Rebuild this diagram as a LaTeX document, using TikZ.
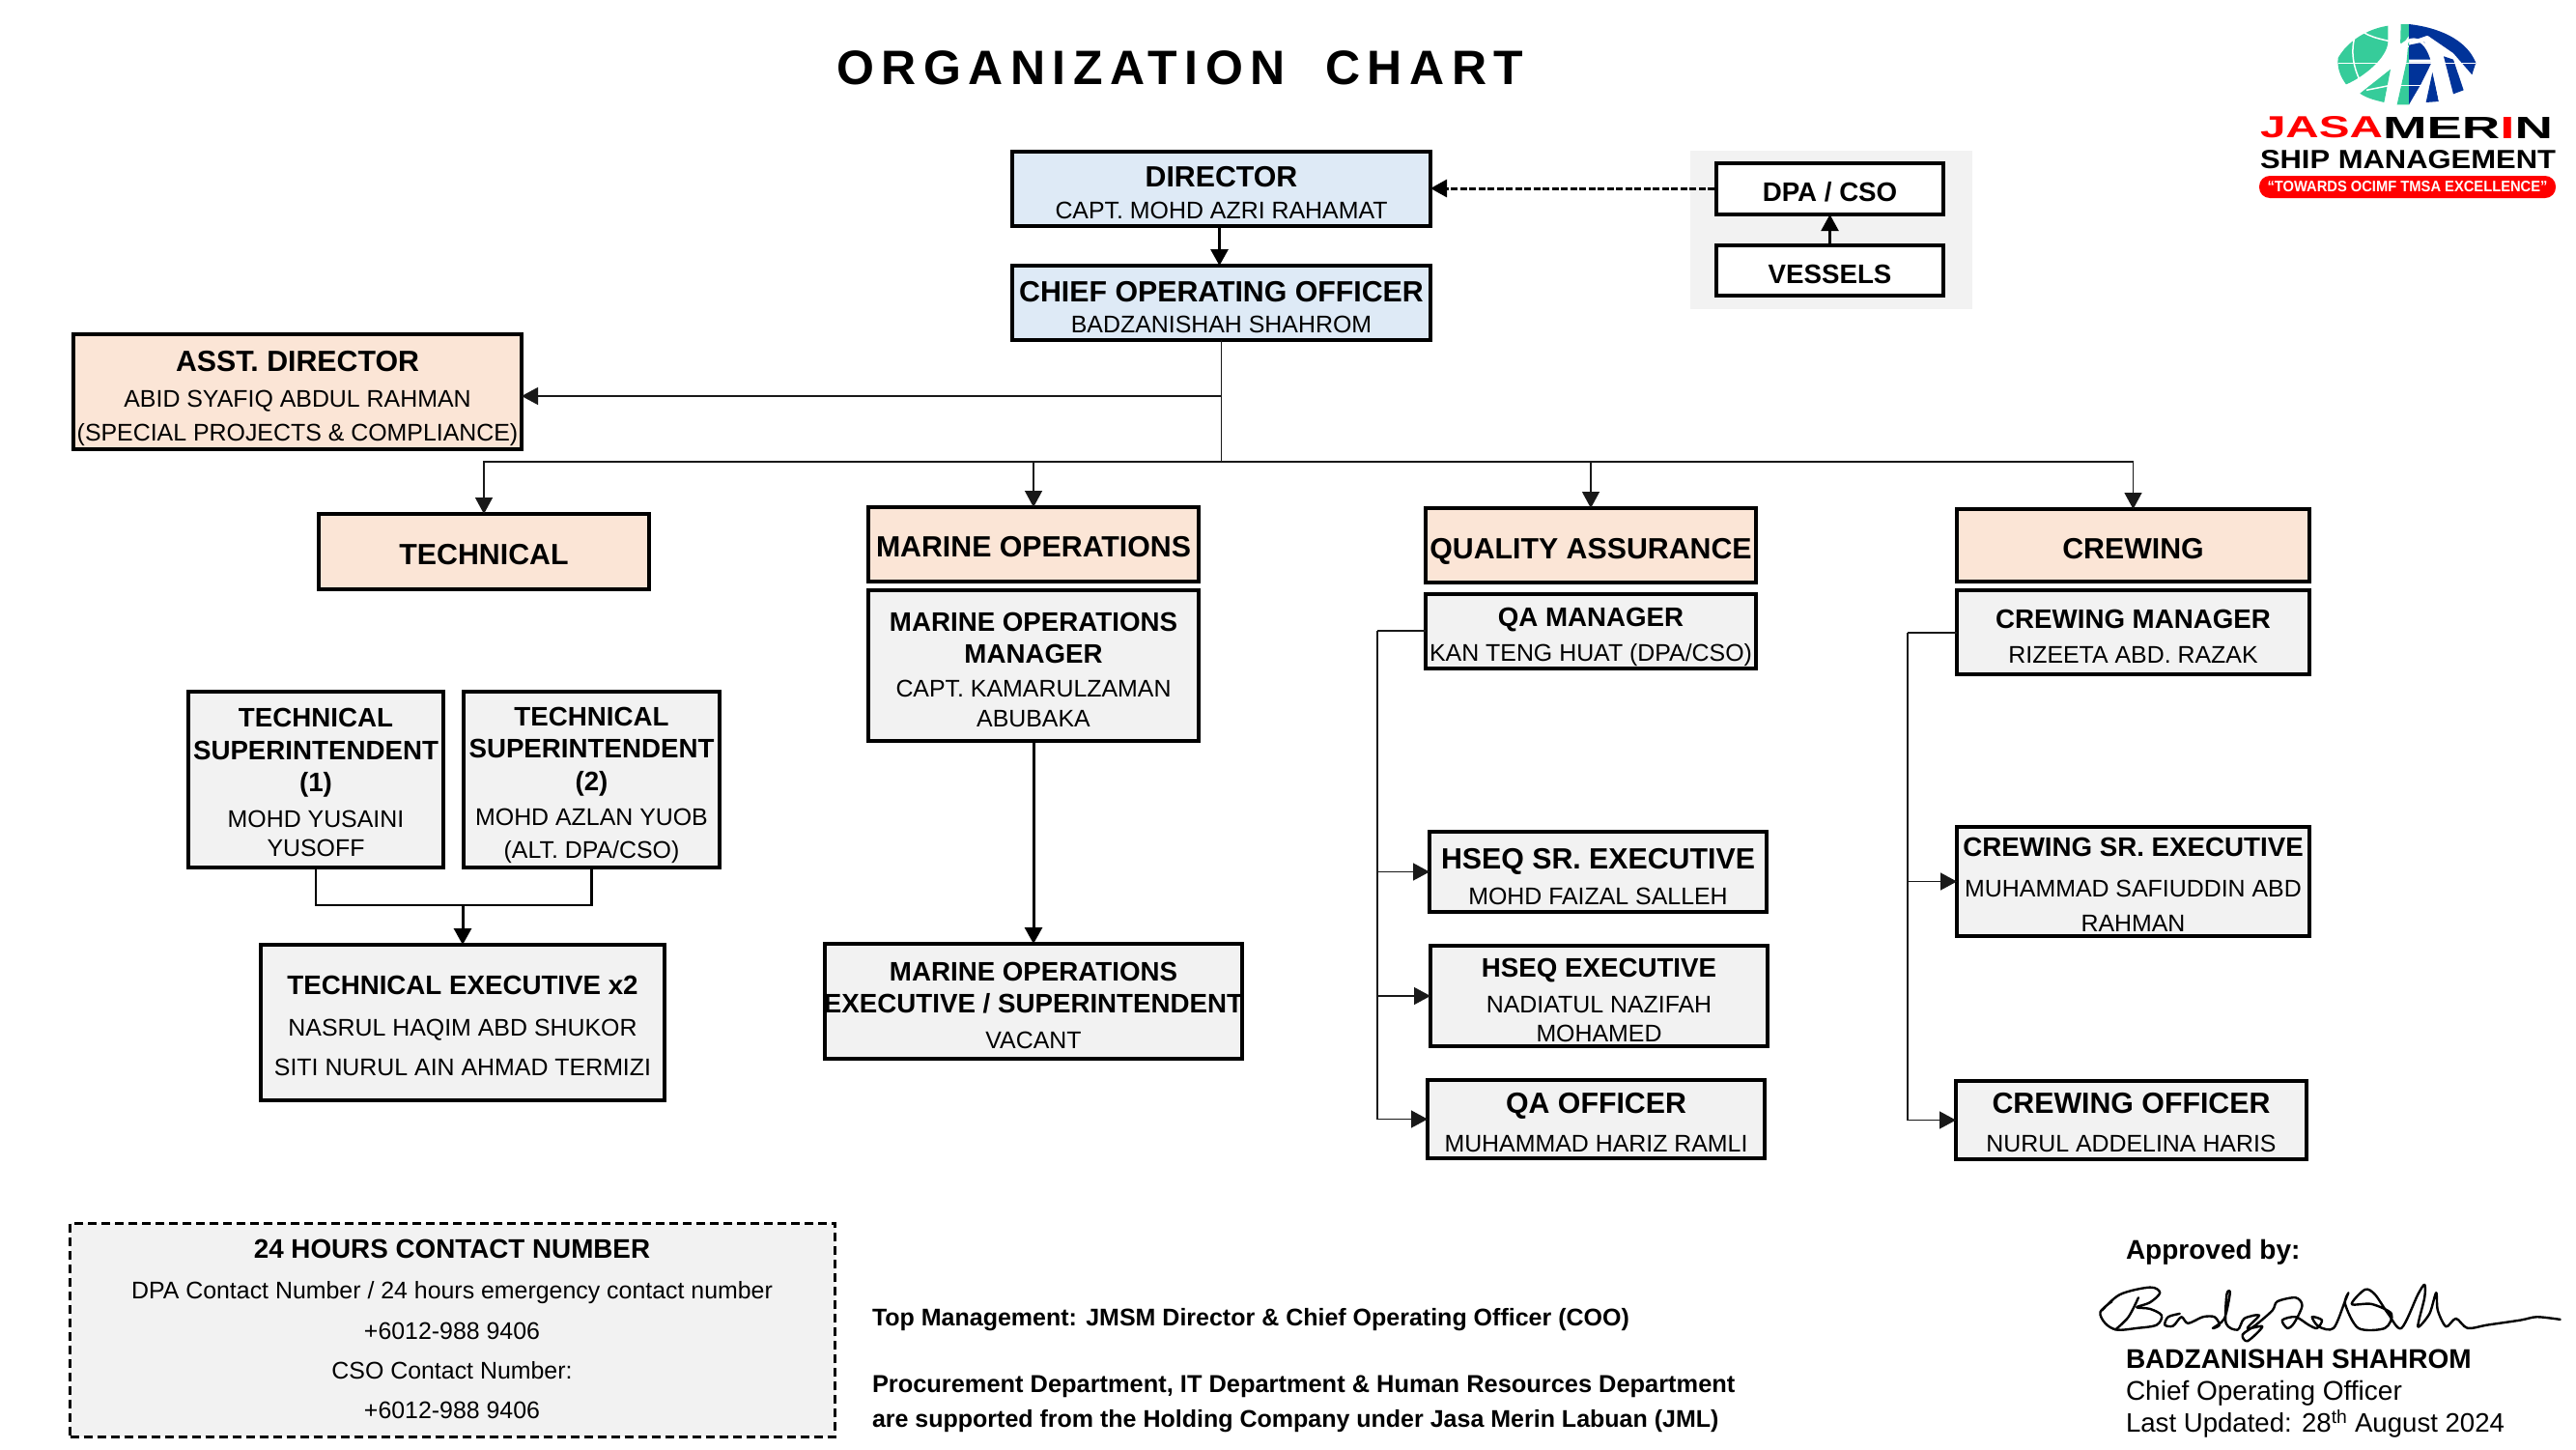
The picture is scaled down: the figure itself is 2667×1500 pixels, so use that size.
\documentclass[tikz,border=0pt]{standalone}
\usepackage{graphicx}
\usepackage{fontspec}
\setmainfont{Liberation Sans}
\usetikzlibrary{arrows.meta}
\definecolor{bluebox}{HTML}{DEEAF6}
\definecolor{peach}{HTML}{FBE5D6}
\definecolor{greybox}{HTML}{F2F2F2}
\definecolor{logogreen}{HTML}{36CC9A}
\definecolor{logoblue}{HTML}{003399}
\definecolor{logored}{HTML}{FF0000}
\newcommand\hd[1]{{\fontsize{30.3}{34}\selectfont\bfseries #1}}
\newcommand\hs[1]{{\fontsize{27.7}{32}\selectfont\bfseries #1}}
\newcommand\nm[1]{{\fontsize{24.9}{30}\selectfont #1}}
% name, style, x1, y1, x2, y2, first baseline, lines (\\[gap] = baseline to baseline)
\newcommand\bx[8]{%
  \pgfmathsetmacro\bxdy{(#4+#6)/2-#7}%
  \pgfmathsetmacro\bxw{#5-#3+60}%
  \node[#2,minimum width={#5-#3-4},minimum height={#6-#4-4}] (#1) at ({(#3+#5)/2},{(#4+#6)/2})
    {\makebox[0pt]{\raisebox{\bxdy pt}[0pt][0pt]{\parbox[t]{\bxw pt}{\centering\baselineskip=0pt\lineskiplimit=-\maxdimen\lineskip=0pt #8}}}};}
\tikzset{
  base/.style={draw=black,line width=4pt,inner sep=0pt,outer sep=0pt,rectangle},
  blueb/.style={base,fill=bluebox},
  peachb/.style={base,fill=peach},
  greyb/.style={base,fill=greybox},
  whiteb/.style={base,fill=white},
  tip/.style={-{Triangle[length=17pt,width=18pt]}},
  thinline/.style={line width=1.3pt,draw=black!90},
  conn/.style={tip,thinline},
  heavy/.style={tip,line width=3pt,draw=black},
  lbl/.style={inner sep=0pt,outer sep=0pt,anchor=base west},
  clbl/.style={inner sep=0pt,outer sep=0pt,anchor=base}
}
\begin{document}
\begin{tikzpicture}[x=1pt,y=-1pt]
\useasboundingbox (0,0) rectangle (2667,1500);
\fill[white] (0,0) rectangle (2667,1500);
% title
\node[lbl] (title) at (866,87) {\fontsize{50}{56}\selectfont\bfseries\addfontfeatures{LetterSpace=15}ORGANIZATION\hspace{20pt} CHART};
% panel
\fill[greybox] (1750,156) rectangle (2042,320);
% boxes
\bx{dir}{blueb}{1046}{155}{1483}{236}{193.5}{\hd{DIRECTOR}\\[32.5pt]\nm{CAPT. MOHD AZRI RAHAMAT}}
\bx{coo}{blueb}{1046}{273}{1483}{354}{312}{\hd{CHIEF OPERATING OFFICER}\\[32pt]\nm{BADZANISHAH SHAHROM}}
\bx{dpa}{whiteb}{1775}{167}{2014}{224}{208}{\hs{DPA / CSO}}
\bx{ves}{whiteb}{1775}{252}{2014}{308}{293}{\hs{VESSELS}}
\bx{ad}{peachb}{74}{344}{542}{467}{384}{\hd{ASST. DIRECTOR}\\[37pt]\nm{ABID SYAFIQ ABDUL RAHMAN}\\[35pt]\nm{(SPECIAL PROJECTS \& COMPLIANCE)}}
\bx{tech}{peachb}{328}{530}{674}{612}{584}{\hd{TECHNICAL}}
\bx{mar}{peachb}{897}{523}{1243}{604}{576}{\hd{MARINE OPERATIONS}}
\bx{qa}{peachb}{1474}{524}{1820}{605}{578}{\hd{QUALITY ASSURANCE}}
\bx{crew}{peachb}{2024}{525}{2393}{604}{578}{\hd{CREWING}}
\bx{ts1}{greyb}{193}{714}{461}{900}{752}{\hs{TECHNICAL}\\[34pt]\hs{SUPERINTENDENT}\\[33pt]\hs{(1)}\\[37pt]\nm{MOHD YUSAINI}\\[30pt]\nm{YUSOFF}}
\bx{ts2}{greyb}{478}{714}{747}{900}{751}{\hs{TECHNICAL}\\[33pt]\hs{SUPERINTENDENT}\\[34pt]\hs{(2)}\\[36pt]\nm{MOHD AZLAN YUOB}\\[34pt]\nm{(ALT. DPA/CSO)}}
\bx{te}{greyb}{268}{976}{690}{1141}{1029}{\hs{TECHNICAL EXECUTIVE x2}\\[43pt]\nm{NASRUL HAQIM ABD SHUKOR}\\[41pt]\nm{SITI NURUL AIN AHMAD TERMIZI}}
\bx{mom}{greyb}{897}{609}{1243}{769}{653}{\hs{MARINE OPERATIONS}\\[33pt]\hs{MANAGER}\\[35pt]\nm{CAPT. KAMARULZAMAN}\\[31pt]\nm{ABUBAKA}}
\bx{moe}{greyb}{852}{975}{1288}{1098}{1015}{\hs{MARINE OPERATIONS}\\[33pt]\hs{EXECUTIVE / SUPERINTENDENT}\\[37pt]\nm{VACANT}}
\bx{qam}{greyb}{1474}{613}{1820}{694}{648}{\hs{QA MANAGER}\\[36pt]\nm{KAN TENG HUAT (DPA/CSO)}}
\bx{hs}{greyb}{1478}{859}{1831}{946}{899}{\hd{HSEQ SR. EXECUTIVE}\\[37pt]\nm{MOHD FAIZAL SALLEH}}
\bx{he}{greyb}{1479}{977}{1832}{1085}{1011}{\hs{HSEQ EXECUTIVE}\\[37pt]\nm{NADIATUL NAZIFAH}\\[30pt]\nm{MOHAMED}}
\bx{qo}{greyb}{1476}{1116}{1829}{1201}{1152}{\hd{QA OFFICER}\\[40pt]\nm{MUHAMMAD HARIZ RAMLI}}
\bx{cm}{greyb}{2024}{609}{2393}{700}{650}{\hs{CREWING MANAGER}\\[36pt]\nm{RIZEETA ABD. RAZAK}}
\bx{cse}{greyb}{2024}{854}{2393}{971}{886}{\hs{CREWING SR. EXECUTIVE}\\[42pt]\nm{MUHAMMAD SAFIUDDIN ABD}\\[36pt]\nm{RAHMAN}}
\bx{co}{greyb}{2023}{1117}{2390}{1202}{1152}{\hd{CREWING OFFICER}\\[40pt]\nm{NURUL ADDELINA HARIS}}
% connectors
\coordinate (bus) at (1264.5,478);
\coordinate (adj) at (1264.5,410);
\coordinate (dash) at (1775,195);
\coordinate (tj) at (479,937);
\coordinate (qab) at (1426,653);
\coordinate (crb) at (1975,655);
\draw[heavy] ([xshift=-2pt]dir.south) -- ([xshift=-2pt]coo.north);
\draw[heavy,dash pattern=on 7pt off 2.5pt] (dash) -- (dir.east |- dash);
\draw[heavy,line width=2.2pt] (ves.north) -- (dpa.south);
\draw[thinline] (coo.south) -- (bus);
\draw[conn] (adj) -- (ad.east |- adj);
\draw[conn] (bus) -| (tech.north);
\draw[conn] (bus) -| (mar.north);
\draw[conn] (bus) -| (qa.north);
\draw[conn] (bus) -| (crew.north);
\draw[line width=2.8pt] (ts1.south) |- (tj) -| (ts2.south);
\draw[heavy] (tj) -- (tj |- te.north);
\draw[heavy] (mom.south) -- (moe.north -| mom.south);
\draw[thinline] (qab) -- (qab -| qam.west);
\draw[conn] (qab) |- (qo.west);
\draw[conn] (qab |- hs.west) -- (hs.west);
\draw[conn] (qab |- he.west) -- (he.west);
\draw[thinline] (crb) -- (crb -| cm.west);
\draw[conn] (crb) |- (co.west);
\draw[conn] (crb |- cse.west) -- (cse.west);
% contact box
\node[draw=black,dash pattern=on 9pt off 5pt,line width=3pt,fill=greybox,inner sep=0pt,minimum width=792,minimum height=221] (contact) at (468.5,1376.5) {};
\node[clbl] (c1) at (468,1302.5) {\fontsize{27.8}{30}\selectfont\bfseries 24 HOURS CONTACT NUMBER};
\node[clbl] (c2) at (468,1344.5) {\nm{DPA Contact Number / 24 hours emergency contact number}};
\node[clbl] (c3) at (468,1386.5) {\nm{+6012-988 9406}};
\node[clbl] (c4) at (468,1427.5) {\nm{CSO Contact Number:}};
\node[clbl] (c5) at (468,1468.5) {\nm{+6012-988 9406}};
% middle notes
\node[lbl] (n1) at (903,1372.5) {\fontsize{25}{28}\selectfont\bfseries Top Management: JMSM Director \& Chief Operating Officer (COO)};
\node[lbl] (n2) at (903,1441.5) {\fontsize{25.4}{28}\selectfont\bfseries Procurement Department, IT Department \& Human Resources Department};
\node[lbl] (n3) at (903,1477.5) {\fontsize{25}{28}\selectfont\bfseries are supported from the Holding Company under Jasa Merin Labuan (JML)};
% approval
\node[lbl] (a1) at (2201,1303.5) {\fontsize{28}{30}\selectfont\bfseries Approved by:};
\node[lbl] (a2) at (2201,1416.5) {\fontsize{28}{30}\selectfont\bfseries BADZANISHAH SHAHROM};
\node[lbl] (a3) at (2201,1449) {\fontsize{28}{30}\selectfont Chief Operating Officer};
\node[lbl] (a4) at (2201,1482.5) {\fontsize{27.6}{30}\selectfont Last Updated: 28\textsuperscript{th} August 2024};
% signature
\begin{scope}[shift={(2130,1260)},x=0.3425pt,y=-0.333pt]
\draw[line width=2.4pt,line cap=round,line join=round] plot[smooth,tension=0.55] coordinates {(165,262)(130,295)(145,330)(180,350)(240,345)(300,335)(315,305)(280,285)(240,280)(280,265)(310,235)(280,218)(190,240)(135,290)};
\draw[line width=2.4pt,line cap=round] plot[smooth,tension=0.55] coordinates {(245,250)(215,310)(175,350)};
\draw[line width=2.4pt,line cap=round,line join=round] plot[smooth,tension=0.5] coordinates {(370,300)(335,310)(325,335)(350,338)(375,310)(395,330)(440,310)(475,310)(490,335)(470,345)(505,315)(522,235)(512,240)(510,330)(545,350)(565,315)(610,305)(575,345)(620,340)(575,385)(560,365)(600,335)(650,290)(665,262)(720,250)(740,275)(715,330)(695,345)(680,320)(720,310)(760,335)(785,345)(800,320)(770,310)(790,340)(835,345)(870,260)(880,235)(870,270)(910,345)(990,345)(1010,300)(950,270)(890,270)(930,225)(960,240)(1000,300)(1040,345)(1090,240)(1110,210)(1110,250)(1090,340)(1125,300)(1145,235)(1150,290)(1175,340)(1205,315)(1240,345)(1300,335)(1400,320)(1450,310)(1520,318)};
\end{scope}
% logo
\begin{scope}[shift={(2300,0)},x=0.3333pt,y=-0.3333pt]
\fill[logogreen] (517,80) .. controls (450,90) and (390,130) .. (362,180) .. controls (358,210) and (370,240) .. (387,262) .. controls (440,240) and (515,180) .. (517,130) -- cycle;
\fill[logogreen] (430,290) -- (525,215) -- (505,318) .. controls (480,312) and (450,305) .. (430,290) -- cycle;
\fill[logogreen] (557,75) -- (582,75) -- (582,325) -- (545,325) -- (575,190) -- (582,110) -- (555,150) -- cycle;
\fill[logoblue] (582,75) .. controls (670,85) and (760,120) .. (790,195) -- (778,232) -- (720,165) -- (640,110) -- (582,130) -- cycle;
\fill[logoblue] (582,140) -- (630,130) -- (650,185) -- (582,185) -- cycle;
\fill[logoblue] (582,195) -- (652,195) -- (620,260) -- (582,325) -- cycle;
\fill[logoblue] (655,225) -- (675,315) -- (635,318) -- cycle;
\fill[logoblue] (690,175) -- (720,185) -- (752,280) -- (720,292) -- cycle;
\draw[white,line width=1.5pt] (362,197) -- (582,197) -- (790,197);
\draw[white,line width=1.5pt] (415,110) .. controls (400,160) and (410,210) .. (430,250);
\draw[white,line width=1.5pt] (440,100) .. controls (480,125) and (530,125) .. (582,145);
\draw[white,line width=3pt] (550,150) .. controls (590,105) and (640,110) .. (660,210) -- (680,320);
\draw[white,line width=1.5pt] (450,280) -- (525,265);
\draw[white,line width=1.5pt] (550,265) -- (640,265);
\end{scope}
\node[inner sep=0pt] (logo1) at (2403.5,132) {\resizebox{127pt}{22pt}{\color{logored}\bfseries JASA}};
\node[inner sep=0pt] (logo2) at (2555,132) {\resizebox{176pt}{22pt}{\bfseries MER\textcolor{logored}{I}N}};
\node[inner sep=0pt] (logo3) at (2493,165) {\resizebox{306pt}{19pt}{\bfseries SHIP MANAGEMENT}};
\node[fill=logored,rounded corners=11pt,inner sep=0pt,minimum width=307,minimum height=23] (logo4) at (2492.5,193.5) {\resizebox{290pt}{11pt}{\color{white}\bfseries “TOWARDS OCIMF TMSA EXCELLENCE”}};
\end{tikzpicture}
\end{document}
